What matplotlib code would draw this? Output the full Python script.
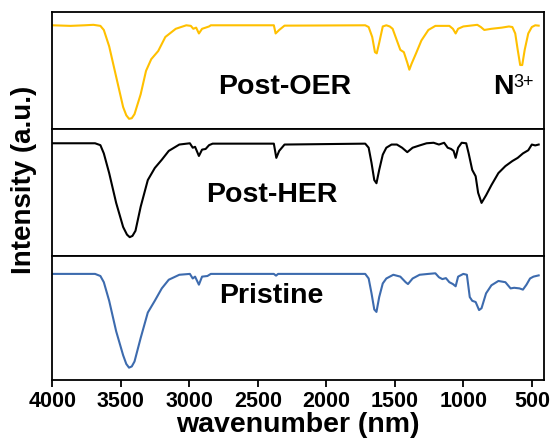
import matplotlib
matplotlib.use('Agg')
import matplotlib.pyplot as plt
import numpy as np

plt.rcParams['font.family'] = ['Liberation Sans', 'DejaVu Sans']
plt.rcParams['font.weight'] = 'bold'

#%% data (baseline ~0.89, fraction of panel height)

oer_wn = [4000, 3867, 3764, 3700, 3649, 3624, 3585, 3534, 3483, 3460, 3440, 3420, 3400, 3355, 3316,
          3278, 3227, 3175, 3099, 3022, 2989, 2971, 2950, 2930, 2907, 2881, 2856, 2843, 2587,
          2383, 2370, 2344, 2305, 1716, 1691, 1665, 1645, 1632, 1614, 1588, 1562, 1537, 1516,
          1485, 1460, 1434, 1409, 1394, 1378, 1345, 1306, 1255, 1204, 1102, 1076, 1056, 1038,
          1000, 898, 872, 847, 795, 719, 667, 642, 621, 603, 585, 570, 552, 526, 500, 475, 450]
oer_int = [0.89, 0.885, 0.89, 0.894, 0.885, 0.85, 0.71, 0.45, 0.19, 0.12, 0.09, 0.095, 0.13, 0.30, 0.50,
           0.60, 0.67, 0.79, 0.86, 0.89, 0.885, 0.86, 0.87, 0.82, 0.86, 0.87, 0.88, 0.89, 0.89,
           0.89, 0.82, 0.85, 0.887, 0.89, 0.875, 0.79, 0.66, 0.65, 0.74, 0.88, 0.89, 0.88, 0.86,
           0.76, 0.68, 0.66, 0.57, 0.51, 0.56, 0.65, 0.76, 0.85, 0.885, 0.885, 0.86, 0.82, 0.86,
           0.88, 0.894, 0.875, 0.85, 0.86, 0.87, 0.88, 0.875, 0.82, 0.68, 0.55, 0.55, 0.68, 0.82,
           0.875, 0.89, 0.887]

her_wn = [4000, 3688, 3649, 3624, 3585, 3534, 3483, 3455, 3435, 3415, 3393, 3355, 3303, 3252, 3201,
          3150, 3073, 2996, 2975, 2958, 2930, 2907, 2881, 2856, 2830, 2383, 2365, 2344, 2305,
          1716, 1691, 1670, 1650, 1634, 1614, 1588, 1562, 1524, 1485, 1447, 1409, 1370, 1319,
          1268, 1217, 1178, 1140, 1114, 1089, 1071, 1056, 1038, 1012, 979, 961, 935, 910, 892,
          867, 834, 795, 744, 693, 642, 603, 565, 526, 500, 475, 450]
her_int = [0.89, 0.89, 0.875, 0.81, 0.655, 0.42, 0.23, 0.17, 0.15, 0.16, 0.20, 0.39, 0.60, 0.695, 0.76,
           0.83, 0.88, 0.89, 0.855, 0.862, 0.79, 0.84, 0.845, 0.875, 0.887, 0.887, 0.775, 0.83, 0.88,
           0.887, 0.855, 0.735, 0.60, 0.575, 0.68, 0.80, 0.855, 0.88, 0.88, 0.855, 0.82, 0.855, 0.873,
           0.89, 0.894, 0.88, 0.894, 0.855, 0.845, 0.83, 0.775, 0.855, 0.894, 0.89, 0.81, 0.68, 0.63, 0.50,
           0.42, 0.48, 0.56, 0.655, 0.71, 0.75, 0.775, 0.81, 0.835, 0.88, 0.873, 0.88]

pri_wn = [4000, 3688, 3649, 3624, 3585, 3534, 3483, 3460, 3440, 3420, 3400, 3355, 3303, 3252, 3201,
          3150, 3073, 2996, 2975, 2958, 2930, 2907, 2868, 2843, 2383, 2367, 2352, 1716, 1691,
          1670, 1650, 1634, 1614, 1588, 1562, 1511, 1460, 1421, 1404, 1370, 1319, 1255, 1204,
          1178, 1153, 1127, 1102, 1076, 1056, 1038, 1000, 974, 953, 935, 910, 885, 867, 834,
          795, 744, 693, 655, 629, 590, 565, 539, 513, 488, 450]
pri_int = [0.857, 0.857, 0.84, 0.79, 0.64, 0.394, 0.20, 0.13, 0.10, 0.11, 0.15, 0.34, 0.545, 0.64, 0.74,
           0.81, 0.85, 0.857, 0.82, 0.835, 0.77, 0.835, 0.84, 0.857, 0.857, 0.843, 0.857, 0.857, 0.82,
           0.70, 0.57, 0.55, 0.67, 0.78, 0.82, 0.85, 0.835, 0.79, 0.775, 0.82, 0.85, 0.857, 0.862,
           0.83, 0.815, 0.823, 0.79, 0.775, 0.757, 0.835, 0.857, 0.85, 0.67, 0.64, 0.63, 0.565, 0.58, 0.70,
           0.765, 0.80, 0.79, 0.74, 0.745, 0.74, 0.73, 0.77, 0.82, 0.835, 0.845]

# (x, y, colour, label, label x, label baseline y) -- label pos in axes fraction
spectra = [
    (oer_wn, oer_int, '#FFC000', 'Post-OER', 0.472, 0.30),
    (her_wn, her_int, 'black', 'Post-HER', 0.447, 0.43),
    (pri_wn, pri_int, '#3D6BAE', 'Pristine', 0.445, 0.625),
]

#%%
fig = plt.figure(figsize=(5.53, 4.44), dpi=100)
gs = fig.add_gridspec(3, 1, height_ratios=[117, 127, 124], hspace=0,
                      left=0.0946, right=0.984, bottom=0.144, top=0.972)

axes = []
for i, (wn, inten, col, label, tx, ty) in enumerate(spectra):
    ax = fig.add_subplot(gs[i])
    ax.plot(wn, inten, color=col, lw=1.5)
    ax.set_xlim(4000, 410)
    ax.set_ylim(0, 1)
    ax.set_yticks([])
    for s in ax.spines.values():
        s.set_linewidth(1.3)
    ax.text(tx, ty, label, transform=ax.transAxes, ha='center', va='baseline',
            fontsize=20.5, fontweight='bold')
    if i < 2:
        ax.set_xticks([])
    axes.append(ax)

# N with a small regular-weight 3+ superscript
axes[0].text(0.917, 0.30, 'N', transform=axes[0].transAxes, ha='center',
             va='baseline', fontsize=20.5, fontweight='bold')
axes[0].text(0.938, 0.36, '3+', transform=axes[0].transAxes, ha='left',
             va='baseline', fontsize=13, fontweight='normal')

ax = axes[-1]
ax.set_xticks([4000, 3500, 3000, 2500, 2000, 1500, 1000, 500])
ax.tick_params(axis='x', direction='out', length=5, width=1.3, labelsize=15.5, pad=3)
for lab in ax.get_xticklabels():
    lab.set_fontweight('bold')
ax.set_xlabel('wavenumber (nm)', fontsize=20.5, fontweight='bold', labelpad=0)

fig.text(0.043, 0.595, 'Intensity (a.u.)', rotation=90, ha='center', va='center',
         fontsize=20, fontweight='bold')

plt.savefig('out.png', dpi=100)
